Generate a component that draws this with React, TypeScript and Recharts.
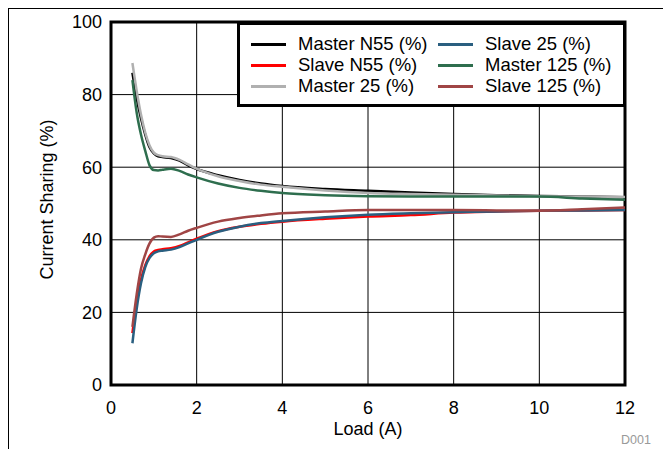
import React from "react";
import { LineChart, Line, XAxis, YAxis, CartesianGrid, Legend, ReferenceArea } from "recharts";

const loads = [0.5, 0.6, 0.7, 0.8, 0.9, 1.0, 1.1, 1.2, 1.4, 1.6, 1.8, 2, 2.5, 3, 3.5, 4, 5, 6, 7, 8, 9, 10, 11, 12];
const masterN55 = [86, 79, 73.5, 69, 65.5, 63.8, 63, 62.8, 62.5, 61.8, 60.5, 59.5, 57.8, 56.5, 55.5, 54.8, 54, 53.5, 53, 52.6, 52.3, 52.1, 51.9, 51.7];
const slaveN55 = [14.3, 23, 29, 33, 35.5, 36.8, 37.2, 37.4, 37.7, 38.3, 39.3, 40.3, 42.4, 43.6, 44.4, 45, 45.8, 46.4, 46.8, 47.5, 47.8, 48, 48.1, 48.2];
const master25 = [88.7, 81, 74.5, 69.5, 66, 64, 63.3, 63, 62.8, 62, 60.8, 59.6, 57.5, 56.2, 55.2, 54.6, 53.6, 52.9, 52.6, 52.4, 52.2, 52, 51.9, 51.8];
const slave25 = [11.5, 21, 28, 32.5, 35, 36.3, 36.8, 37, 37.3, 38, 39, 40, 42.2, 43.6, 44.6, 45.2, 46.2, 46.9, 47.3, 47.6, 47.8, 48, 48.1, 48.2];
const master125 = [84, 75, 69, 64.5, 60.5, 59.2, 59.1, 59.3, 59.6, 59, 58, 57.2, 55.5, 54.3, 53.5, 52.9, 52.3, 52, 51.9, 51.9, 51.9, 51.9, 51.4, 51];
const slave125 = [16, 25, 32, 36, 39, 40.6, 41, 40.9, 40.8, 41.5, 42.5, 43.3, 45, 46, 46.7, 47.3, 47.8, 48.2, 48.2, 48.2, 48.1, 48, 48.4, 48.9];

const xTicks = [0, 2, 4, 6, 8, 10, 12];
const yTicks = [0, 20, 40, 60, 80, 100];

const series = [
  { key: "mN55", name: "Master N55 (%)", values: masterN55, color: "#000000" },
  { key: "sN55", name: "Slave N55 (%)", values: slaveN55, color: "#ff0000" },
  { key: "m25", name: "Master 25 (%)", values: master25, color: "#b0b0b0" },
  { key: "s25", name: "Slave 25 (%)", values: slave25, color: "#2a5f80" },
  { key: "m125", name: "Master 125 (%)", values: master125, color: "#2e6e4e" },
  { key: "s125", name: "Slave 125 (%)", values: slave125, color: "#a04545" },
];

const data = loads.map((load, i) => {
  const row: Record<string, number> = { load };
  series.forEach((s) => (row[s.key] = s.values[i]));
  return row;
});

const font = "'Liberation Sans', Arial, sans-serif";

function LegendBox() {
  return (
    <div style={{ position: "relative", width: 389, height: 85, border: "3px solid #000", boxSizing: "border-box", background: "#fff", fontFamily: font }}>
      {series.map((s, i) => {
        const col = Math.floor(i / 3);
        const row = i % 3;
        const left = col === 0 ? 11 : 198;
        const top = 19 + row * 21;
        return (
          <div key={s.key} style={{ position: "absolute", left, top: top - 11, height: 22, display: "flex", alignItems: "center", whiteSpace: "nowrap" }}>
            <span style={{ display: "inline-block", width: 35, height: 3, background: s.color, marginRight: 12 }} />
            <span style={{ fontSize: 18.5, color: "#000" }}>{s.name}</span>
          </div>
        );
      })}
    </div>
  );
}

export default function App() {
  return (
    <div style={{ position: "relative", width: 662, height: 440, borderTop: "1px solid #000", borderLeft: "1px solid #000", fontFamily: font }}>
      <LineChart width={662} height={440} data={data} margin={{ top: 13, right: 46, left: 0, bottom: 0 }}>
        <CartesianGrid stroke="#000" strokeWidth={1} />
        <XAxis
          dataKey="load"
          type="number"
          domain={[0, 12]}
          ticks={xTicks}
          height={64}
          tickSize={0}
          tickMargin={16}
          axisLine={false}
          tick={{ fontSize: 18, fill: "#000", fontFamily: font }}
          label={{ value: "Load (A)", position: "insideBottom", offset: 14, fontSize: 18, fill: "#000", fontFamily: font }}
        />
        <YAxis
          type="number"
          domain={[0, 100]}
          ticks={yTicks}
          width={102}
          tickSize={0}
          tickMargin={9}
          axisLine={false}
          tick={{ fontSize: 18, fill: "#000", fontFamily: font }}
          label={{ value: "Current Sharing (%)", angle: -90, position: "center", dx: -13, dy: -4, fontSize: 18, fill: "#000", fontFamily: font }}
        />
        {series.map((s) => (
          <Line
            key={s.key}
            dataKey={s.key}
            name={s.name}
            type="monotone"
            stroke={s.color}
            strokeWidth={2.5}
            dot={false}
            isAnimationActive={false}
          />
        ))}
        <ReferenceArea x1={0} x2={12} y1={0} y2={100} fill="none" stroke="#000" strokeWidth={3} ifOverflow="visible" />
        <Legend
          verticalAlign="middle"
          align="center"
          layout="horizontal"
          content={() => <LegendBox />}
          wrapperStyle={{ position: "absolute", left: 228, top: 13, width: 389, height: 85 }}
        />
      </LineChart>
      <div style={{ position: "absolute", left: 612, top: 424, fontSize: 12.5, color: "#999", fontFamily: font }}>D001</div>
    </div>
  );
}
